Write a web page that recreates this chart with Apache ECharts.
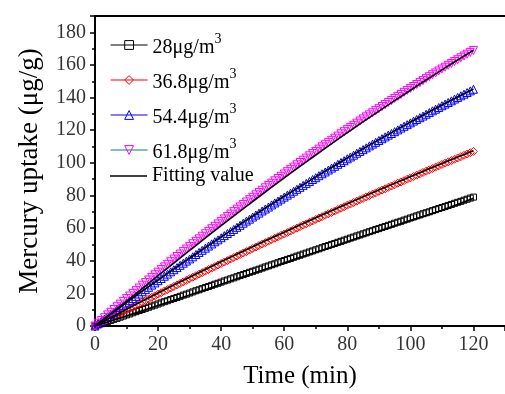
<!DOCTYPE html>
<html><head><meta charset="utf-8">
<script src="https://cdn.jsdelivr.net/npm/echarts@6/dist/echarts.min.js"></script>
<style>html,body{margin:0;padding:0;background:#fff}#c{width:505px;height:394px}</style>
</head><body><div id="c"></div>
<script>
const time = [0,1,2,3,4,5,6,7,8,9,10,11,12,13,14,15,16,17,18,19,20,21,22,23,24,25,26,27,28,29,30,31,32,33,34,35,36,37,38,39,40,41,42,43,44,45,46,47,48,49,50,51,52,53,54,55,56,57,58,59,60,61,62,63,64,65,66,67,68,69,70,71,72,73,74,75,76,77,78,79,80,81,82,83,84,85,86,87,88,89,90,91,92,93,94,95,96,97,98,99,100,101,102,103,104,105,106,107,108,109,110,111,112,113,114,115,116,117,118,119,120];
const s28 = [0,0.7,1.4,2.0,2.7,3.4,4.1,4.7,5.4,6.1,6.8,7.4,8.1,8.8,9.5,10.1,10.8,11.5,12.2,12.8,13.5,14.2,14.9,15.5,16.2,16.9,17.5,18.2,18.9,19.5,20.2,20.9,21.6,22.2,22.9,23.6,24.2,24.9,25.6,26.2,26.9,27.6,28.2,28.9,29.5,30.2,30.9,31.5,32.2,32.9,33.5,34.2,34.8,35.5,36.2,36.8,37.5,38.1,38.8,39.5,40.1,40.8,41.4,42.1,42.8,43.4,44.1,44.7,45.4,46.0,46.7,47.3,48.0,48.7,49.3,50.0,50.6,51.3,51.9,52.6,53.2,53.9,54.5,55.2,55.8,56.5,57.1,57.8,58.4,59.1,59.7,60.4,61.0,61.7,62.3,63.0,63.6,64.2,64.9,65.5,66.2,66.8,67.5,68.1,68.8,69.4,70.0,70.7,71.3,72.0,72.6,73.2,73.9,74.5,75.2,75.8,76.4,77.1,77.7,78.4,79.0];
const s368 = [0,1.0,2.0,3.0,3.9,4.9,5.9,6.9,7.9,8.8,9.8,10.8,11.8,12.7,13.7,14.7,15.6,16.6,17.6,18.5,19.5,20.4,21.4,22.3,23.3,24.2,25.2,26.1,27.1,28.0,29.0,29.9,30.8,31.8,32.7,33.6,34.6,35.5,36.4,37.4,38.3,39.2,40.1,41.1,42.0,42.9,43.8,44.7,45.6,46.5,47.5,48.4,49.3,50.2,51.1,52.0,52.9,53.8,54.7,55.6,56.4,57.3,58.2,59.1,60.0,60.9,61.8,62.6,63.5,64.4,65.3,66.2,67.0,67.9,68.8,69.6,70.5,71.4,72.2,73.1,74.0,74.8,75.7,76.5,77.4,78.2,79.1,79.9,80.8,81.6,82.5,83.3,84.1,85.0,85.8,86.6,87.5,88.3,89.1,90.0,90.8,91.6,92.4,93.3,94.1,94.9,95.7,96.5,97.4,98.2,99.0,99.8,100.6,101.4,102.2,103.0,103.8,104.6,105.4,106.2,107.0];
const s544 = [0,1.4,2.8,4.3,5.7,7.1,8.5,9.9,11.3,12.7,14.1,15.5,16.8,18.2,19.6,21.0,22.3,23.7,25.1,26.4,27.8,29.1,30.5,31.8,33.2,34.5,35.8,37.2,38.5,39.8,41.1,42.4,43.8,45.1,46.4,47.7,49.0,50.3,51.6,52.8,54.1,55.4,56.7,57.9,59.2,60.5,61.7,63.0,64.3,65.5,66.8,68.0,69.2,70.5,71.7,72.9,74.2,75.4,76.6,77.8,79.0,80.2,81.4,82.6,83.8,85.0,86.2,87.4,88.6,89.8,90.9,92.1,93.3,94.4,95.6,96.8,97.9,99.1,100.2,101.3,102.5,103.6,104.7,105.9,107.0,108.1,109.2,110.4,111.5,112.6,113.7,114.8,115.9,117.0,118.0,119.1,120.2,121.3,122.4,123.4,124.5,125.6,126.6,127.7,128.7,129.8,130.8,131.9,132.9,133.9,135.0,136.0,137.0,138.0,139.1,140.1,141.1,142.1,143.1,144.1,145.1];
const s618 = [0,1.7,3.4,5.1,6.8,8.4,10.1,11.8,13.4,15.1,16.8,18.4,20.0,21.7,23.3,25.0,26.6,28.2,29.8,31.4,33.0,34.6,36.2,37.8,39.4,41.0,42.6,44.1,45.7,47.2,48.8,50.4,51.9,53.4,55.0,56.5,58.0,59.6,61.1,62.6,64.1,65.6,67.1,68.6,70.1,71.6,73.0,74.5,76.0,77.4,78.9,80.4,81.8,83.2,84.7,86.1,87.5,89.0,90.4,91.8,93.2,94.6,96.0,97.4,98.8,100.2,101.6,102.9,104.3,105.7,107.0,108.4,109.8,111.1,112.4,113.8,115.1,116.4,117.8,119.1,120.4,121.7,123.0,124.3,125.6,126.9,128.2,129.4,130.7,132.0,133.2,134.5,135.7,137.0,138.2,139.5,140.7,141.9,143.2,144.4,145.6,146.8,148.0,149.2,150.4,151.6,152.8,154.0,155.1,156.3,157.5,158.6,159.8,160.9,162.1,163.2,164.4,165.5,166.6,167.7,168.9];
const fitTime = [0,10,20,30,40,50,60,70,80,90,100,110,120];
const fit28 = [0,6.2,12.6,19.0,25.6,32.2,38.7,45.2,51.7,58.2,64.6,71.0,78.3];
const fit368 = [0,10.3,20.2,29.9,39.4,48.6,57.5,66.3,74.9,83.3,91.5,99.6,107.4];
const fit544 = [0,14.4,28.3,41.6,54.6,67.3,79.5,91.4,103.0,114.2,125.0,135.5,145.3];
const fit618 = [0,15.2,30.8,46.3,61.5,76.3,90.8,104.8,118.5,131.7,144.5,157.0,169.0];
const xTicks = [0,20,40,60,80,100,120];
const yTicks = [0,20,40,60,80,100,120,140,160,180];
const seriesNames = ['28μg/m3','36.8μg/m3','54.4μg/m3','61.8μg/m3'];
const fitName = 'Fitting value';

const FONT = 'Liberation Serif';
const pairs = (xs, ys) => xs.map((x, i) => [x, ys[i]]);

const markerDefs = [
  {name: seriesNames[0], data: s28, color: '#000000', line: '#000000', symbol: 'rect', size: 6, rotate: 0},
  {name: seriesNames[1], data: s368, color: '#ff0000', line: '#ff0000', symbol: 'diamond', size: 8, rotate: 0},
  {name: seriesNames[2], data: s544, color: '#0000ff', line: '#0000ff', symbol: 'triangle', size: 8, rotate: 0},
  {name: seriesNames[3], data: s618, color: '#ff00ff', line: '#008080', symbol: 'triangle', size: 8, rotate: 180}
];
const fits = [fit28, fit368, fit544, fit618];

const series = [];
markerDefs.forEach(d => {
  series.push({
    name: d.name, type: 'line', data: pairs(time, d.data),
    symbol: d.symbol, symbolSize: d.size, symbolRotate: d.rotate, showAllSymbol: true,
    itemStyle: {color: 'rgba(255,255,255,0)', borderColor: d.color, borderWidth: 1},
    lineStyle: {width: 0, color: d.line},
    animation: false, z: 2
  });
});
fits.forEach(f => {
  series.push({
    name: fitName, type: 'line', data: pairs(fitTime, f), smooth: true,
    symbol: 'none', lineStyle: {color: '#000', width: 1.6}, itemStyle: {color: '#000'},
    animation: false, z: 3
  });
});
// tick labels drawn as series labels placed through the axes' own scales
const tickLabelStyle = {show: true, fontFamily: FONT, fontSize: 20, color: '#000'};
series.push({
  name: 'xTickLabels', type: 'scatter', data: xTicks.map(v => [v, 0]),
  symbol: 'circle', symbolSize: 0.01, itemStyle: {color: 'rgba(0,0,0,0)'},
  clip: false, silent: true, animation: false, z: 5,
  label: Object.assign({position: 'bottom', distance: 9, formatter: p => String(p.value[0])}, tickLabelStyle)
});
series.push({
  name: 'yTickLabels', type: 'scatter', data: yTicks.map(v => [0, v]),
  symbol: 'circle', symbolSize: 0.01, itemStyle: {color: 'rgba(0,0,0,0)'},
  clip: false, silent: true, animation: false, z: 5,
  label: Object.assign({position: 'left', distance: 9, formatter: p => String(p.value[1])}, tickLabelStyle)
});

const richText = {
  n: {fontSize: 20, fontFamily: FONT, color: '#000', lineHeight: 26, verticalAlign: 'bottom'},
  sup: {fontSize: 14, fontFamily: FONT, color: '#000', lineHeight: 26, verticalAlign: 'top'}
};

const chart = echarts.init(document.getElementById('c'));
chart.setOption({
  animation: false,
  backgroundColor: '#fff',
  grid: {left: 95, top: 16, width: 422.5, height: 311},
  legend: [
    {
      data: markerDefs.map(d => ({name: d.name, lineStyle: {color: d.line, width: 1.2, opacity: 1}, itemStyle: {color: 'rgba(255,255,255,0)', borderColor: d.color, borderWidth: 1}})),
      orient: 'vertical', left: 110, top: 32, padding: 0, itemGap: 9, itemWidth: 37, itemHeight: 11,
      formatter: name => '{n|' + name.slice(0, -1) + '}{sup|3}',
      textStyle: {fontSize: 20, fontFamily: FONT, color: '#000', rich: richText}
    },
    {
      data: [{name: fitName, icon: 'rect', itemStyle: {color: '#000', borderWidth: 0}}],
      orient: 'vertical', left: 110, top: 166, padding: 0, itemWidth: 37, itemHeight: 1.6,
      textStyle: {fontSize: 20, fontFamily: FONT, color: '#000'}
    }
  ],
  xAxis: [
    {
      type: 'value', min: 0, max: 130, interval: 20,
      name: 'Time (min)', nameLocation: 'middle', nameGap: 38,
      nameTextStyle: {fontSize: 25, fontFamily: FONT, color: '#000'},
      axisLine: {show: true, onZero: false, lineStyle: {color: '#000', width: 2}},
      axisTick: {show: true, inside: false, length: 5, lineStyle: {color: '#000', width: 1.5}},
      minorTick: {show: true, splitNumber: 2, length: 3, lineStyle: {color: '#000', width: 1.5}},
      axisLabel: {show: false},
      splitLine: {show: false}
    },
    {
      type: 'value', position: 'top', min: 0, max: 130,
      axisLine: {show: true, onZero: false, lineStyle: {color: '#000', width: 2}},
      axisTick: {show: false}, axisLabel: {show: false}, splitLine: {show: false}
    }
  ],
  yAxis: [
    {
      type: 'value', min: 0, max: 190, interval: 20,
      name: 'Mercury uptake (μg/g)', nameLocation: 'middle', nameGap: 52,
      nameTextStyle: {fontSize: 27, fontFamily: FONT, color: '#000'},
      axisLine: {show: true, onZero: false, lineStyle: {color: '#000', width: 2}},
      axisTick: {show: true, inside: false, length: 5, lineStyle: {color: '#000', width: 1.5}},
      minorTick: {show: true, splitNumber: 2, length: 3, lineStyle: {color: '#000', width: 1.5}},
      axisLabel: {show: false},
      splitLine: {show: false}
    }
  ],
  series: series
});
</script>
</body></html>
